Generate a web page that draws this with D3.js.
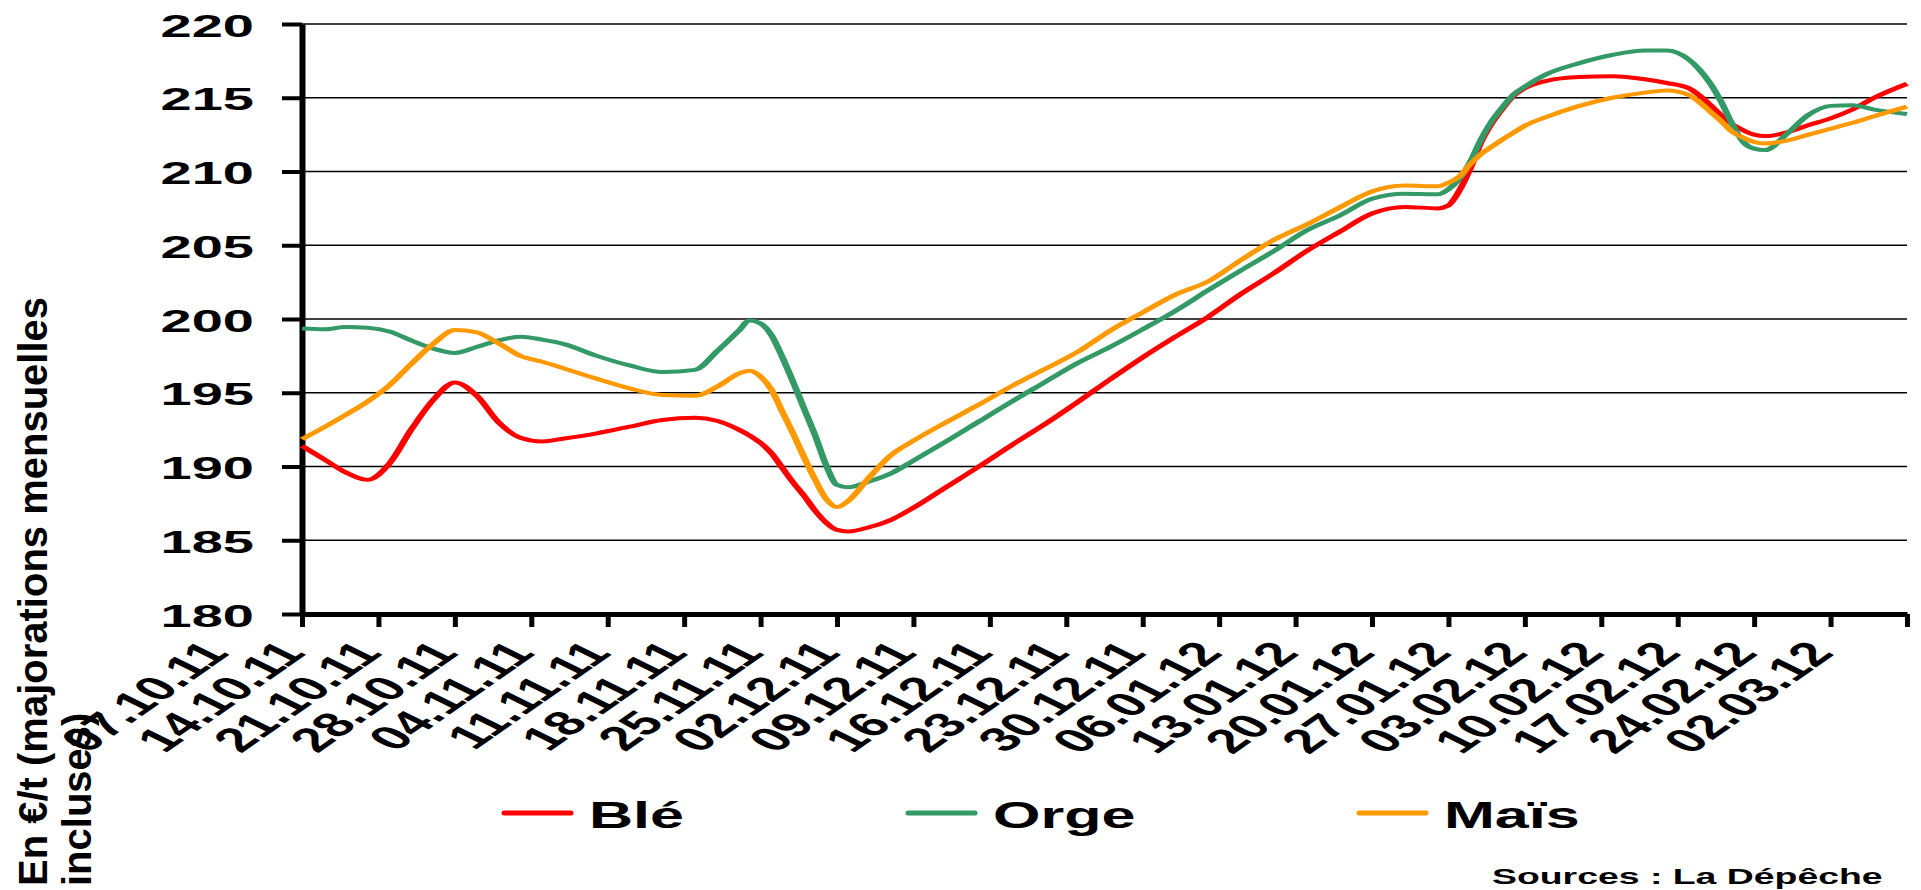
<!DOCTYPE html>
<html>
<head>
<meta charset="utf-8">
<script src="https://d3js.org/d3.v7.min.js"></script>
<style>
  body {margin:0; background:#fff; overflow:hidden;}
  svg {display:block; background:#fff;}
  text {font-family:"Liberation Sans", Arial, sans-serif; font-weight:bold; fill:#000;}
</style>
</head>
<body>
<svg width="1921" height="890"></svg>
<script>
// prix en €/t, relevés à la date indiquée
var dates = ["07.10.11","09.10.11","11.10.11","13.10.11","15.10.11","17.10.11","19.10.11","21.10.11","23.10.11","25.10.11","27.10.11","29.10.11","31.10.11",
  "03.11.11","06.11.11","09.11.11","12.11.11","14.11.11","16.11.11","17.11.11","18.11.11","19.11.11","20.11.11","21.11.11","22.11.11","23.11.11","24.11.11","25.11.11","26.11.11","28.11.11","30.11.11",
  "02.12.11","05.12.11","08.12.11","11.12.11","14.12.11","17.12.11","20.12.11","23.12.11","26.12.11","29.12.11",
  "01.01.12","04.01.12","07.01.12","10.01.12","13.01.12","16.01.12","19.01.12","20.01.12","21.01.12","22.01.12","23.01.12","24.01.12","25.01.12","26.01.12","27.01.12","29.01.12",
  "01.02.12","04.02.12","07.02.12","09.02.12","11.02.12","12.02.12","13.02.12","14.02.12","15.02.12","16.02.12","17.02.12","18.02.12","20.02.12","22.02.12","24.02.12","26.02.12","28.02.12",
  "02.03.12"];

var ble = [191.4,190.5,189.6,189.1,190.2,192.5,194.5,195.7,194.8,193.0,191.95,191.7,191.9,
  192.25,192.7,193.15,193.3,193.1,192.5,192.1,191.6,190.9,189.9,188.9,188.0,187.0,186.2,185.7,185.6,185.9,186.4,
  187.2,188.6,190.0,191.45,192.85,194.35,195.9,197.4,198.8,200.15,
  201.7,203.1,204.6,205.9,207.15,207.6,207.5,207.7,208.7,210.2,212.0,213.3,214.3,215.15,215.65,216.15,
  216.4,216.45,216.25,216.0,215.65,215.15,214.5,213.8,213.2,212.8,212.5,212.4,212.65,213.15,213.6,214.2,215.0,
  215.95];

var orge = [199.35,199.3,199.45,199.4,199.15,198.55,198.0,197.7,198.1,198.55,198.8,198.6,198.3,
  197.5,196.85,196.4,196.55,197.8,199.2,199.9,199.7,198.9,197.4,195.7,193.9,192.1,190.1,188.75,188.6,189.0,189.55,
  190.4,191.7,193.05,194.4,195.7,197.0,198.1,199.3,200.55,201.95,
  203.3,204.6,206.0,207.0,208.15,208.5,208.45,208.8,209.5,210.65,212.2,213.45,214.4,215.25,215.75,216.6,
  217.35,217.9,218.2,218.2,217.6,216.9,215.95,214.7,213.2,212.0,211.55,211.45,212.55,213.85,214.45,214.5,214.2,
  213.9];

var mais = [191.85,192.65,193.5,194.4,195.5,196.95,198.3,199.25,199.1,198.35,197.5,197.1,196.65,
  195.95,195.3,194.85,194.8,195.4,196.3,196.5,196.1,195.2,193.7,192.2,190.6,189.1,187.8,187.25,187.65,189.3,190.8,
  191.75,193.0,194.2,195.45,196.6,197.75,199.2,200.45,201.65,202.55,
  204.0,205.35,206.4,207.55,208.65,209.05,209.0,209.25,209.65,210.5,211.2,211.7,212.2,212.65,213.1,213.7,
  214.45,215.0,215.35,215.5,215.2,214.7,214.05,213.4,212.7,212.3,212.0,211.9,212.1,212.5,212.9,213.3,213.75,
  214.4];

var tickDates = ["07.10.11","14.10.11","21.10.11","28.10.11","04.11.11","11.11.11","18.11.11","25.11.11","02.12.11","09.12.11","16.12.11",
  "23.12.11","30.12.11","06.01.12","13.01.12","20.01.12","27.01.12","03.02.12","10.02.12","17.02.12","24.02.12","02.03.12"];

var yTicks = [180,185,190,195,200,205,210,215,220];

var seriesNames = ["Blé","Orge","Maïs"];
var seriesColors = ["#ff0000","#339966","#ff9900"];

var svg = d3.select("svg"),
    width = +svg.attr("width"),
    height = +svg.attr("height"),
    margin = {top: 24, right: 14, bottom: 276, left: 302},
    stretch = 1.7;   // the original picture is drawn wide, text and lines too

var parseDate = d3.utcParse("%d.%m.%y");

var x = d3.scaleUtc()
    .domain([parseDate(tickDates[0]), parseDate(tickDates[tickDates.length - 1])])
    .range([margin.left, width - margin.right]);

var y = d3.scaleLinear()
    .domain([yTicks[0], yTicks[yTicks.length - 1]])
    .range([height - margin.bottom, margin.top]);

// gridlines
svg.append("g")
  .selectAll("line")
  .data(yTicks.slice(1))
  .enter().append("line")
    .attr("x1", x.range()[0])
    .attr("x2", x.range()[1])
    .attr("y1", function(d) { return y(d); })
    .attr("y2", function(d) { return y(d); })
    .attr("stroke", "#000")
    .attr("stroke-width", 1.3);

// y axis
var yAxis = svg.append("g")
    .attr("transform", "translate(" + margin.left + ",0)")
    .call(d3.axisLeft(y).tickValues(yTicks).tickSize(20).tickSizeOuter(0));
yAxis.attr("font-family", null).attr("font-size", null);
yAxis.select(".domain").attr("stroke-width", 6);
yAxis.selectAll(".tick line").attr("stroke-width", 4);
yAxis.selectAll(".tick text")
    .attr("x", null)
    .attr("dy", null)
    .attr("text-anchor", "end")
    .attr("font-size", 32)
    .attr("transform", "translate(-48,12) scale(1.75,1)");

// x axis
var xAxis = svg.append("g")
    .attr("transform", "translate(0," + y.range()[0] + ")")
    .call(d3.axisBottom(x)
      .tickValues(tickDates.map(parseDate))
      .tickFormat(d3.utcFormat("%d.%m.%y"))
      .tickSize(13)
      .tickSizeOuter(0));
xAxis.attr("font-family", null).attr("font-size", null);
xAxis.select(".domain").attr("stroke-width", 5);
xAxis.selectAll(".tick line").attr("stroke-width", 5);
xAxis.selectAll(".tick text")
    .attr("y", null)
    .attr("dy", null)
    .attr("text-anchor", "end")
    .attr("font-size", 34)
    .attr("transform", "translate(-72,40) scale(" + stretch + ",1) rotate(-50)");

// series
var series = [ble, orge, mais].map(function(values, i) {
  return {
    name: seriesNames[i],
    color: seriesColors[i],
    values: values.map(function(v, j) { return {date: parseDate(dates[j]), value: v}; })
  };
});

// lines are drawn in a squeezed frame then widened, so steep parts come out thicker
var line = d3.line()
    .curve(d3.curveMonotoneX)
    .x(function(d) { return x(d.date) / stretch; })
    .y(function(d) { return y(d.value); });

svg.append("g")
    .attr("transform", "scale(" + stretch + ",1)")
  .selectAll("path")
  .data(series)
  .enter().append("path")
    .attr("fill", "none")
    .attr("stroke", function(d) { return d.color; })
    .attr("stroke-width", 4)
    .attr("stroke-linejoin", "round")
    .attr("d", function(d) { return line(d.values); });

// y axis title, two lines
var yTitle = ["En €/t (majorations mensuelles", "incluses)"];
svg.append("g")
  .selectAll("text")
  .data(yTitle)
  .enter().append("text")
    .attr("font-size", 40)
    .attr("transform", function(d, i) { return "translate(" + (47 + i * 44) + ",886) rotate(-90)"; })
    .text(function(d) { return d; });

// legend
var legendX = [504, 908, 1359];
var legend = svg.append("g")
  .selectAll("g")
  .data(series)
  .enter().append("g")
    .attr("transform", function(d, i) { return "translate(" + legendX[i] + ",813)"; });
legend.append("line")
    .attr("x1", 0)
    .attr("x2", 67)
    .attr("stroke", function(d) { return d.color; })
    .attr("stroke-width", 5)
    .attr("stroke-linecap", "round");
legend.append("text")
    .attr("font-size", 37)
    .attr("transform", "translate(85,15) scale(1.65,1)")
    .text(function(d) { return d.name; });

// source
svg.append("text")
    .attr("font-size", 22)
    .attr("transform", "translate(1492,884) scale(" + stretch + ",1)")
    .text("Sources : La Dépêche");
</script>
</body>
</html>
